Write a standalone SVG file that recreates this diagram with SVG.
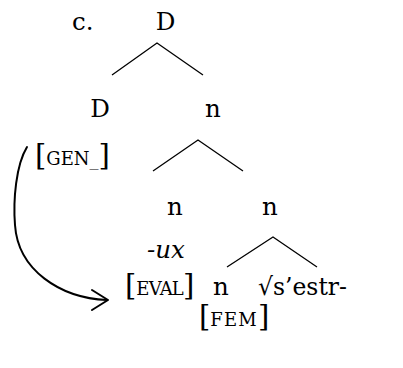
<svg xmlns="http://www.w3.org/2000/svg" width="403" height="368" viewBox="0 0 403 368">
<style>
  text { font-family: "DejaVu Serif", "Liberation Serif", serif; font-size: 24.5px; fill: #000; }
  .sc { font-size: 18px; }
  .br { font-size: 29px; }
  .it { font-style: italic; }
  .edge { stroke: #000; stroke-width: 1.3; fill: none; }
  .arrow { stroke: #000; stroke-width: 2; fill: none; stroke-linecap: round; stroke-linejoin: round; }
</style>
<rect width="403" height="368" fill="#fff"/>
<g id="label-c"><text x="72" y="30">c.</text></g>
<g id="node-D-root"><text x="165.5" y="30" text-anchor="middle">D</text></g>
<g id="node-D"><text x="100" y="117" text-anchor="middle">D</text></g>
<g id="node-n1"><text x="213" y="117" text-anchor="middle">n</text></g>
<g id="feature-gen"><text x="35" y="165"><tspan class="br">[</tspan><tspan class="sc">GEN_</tspan><tspan class="br">]</tspan></text></g>
<g id="node-n2"><text x="175" y="215" text-anchor="middle">n</text></g>
<g id="node-n3"><text x="270" y="215" text-anchor="middle">n</text></g>
<g id="suffix-ux"><text x="166" y="258" text-anchor="middle" class="it">-ux</text></g>
<g id="feature-eval"><text x="125" y="295"><tspan class="br">[</tspan><tspan class="sc" letter-spacing="-0.8">EVAL</tspan><tspan class="br">]</tspan></text></g>
<g id="node-n4"><text x="221" y="295" text-anchor="middle">n</text></g>
<g id="node-root"><text x="258" y="295" textLength="89" lengthAdjust="spacingAndGlyphs">√s’estr-</text></g>
<g id="feature-fem"><text x="199" y="326"><tspan class="br">[</tspan><tspan class="sc" letter-spacing="1.2">FEM</tspan><tspan class="br">]</tspan></text></g>
<g id="connectors">
  <polyline class="edge" points="112,75 157,43 203,75"/>
  <polyline class="edge" points="153,171 198,140 243,171"/>
  <polyline class="edge" points="227,267 273,237 317,267"/>
  <path class="arrow" d="M 27 147 C 16 165, 13 200, 15 225 C 18 270, 60 298, 107 300"/>
  <polyline class="arrow" points="92,290 108,300 92,310"/>
</g>
</svg>
